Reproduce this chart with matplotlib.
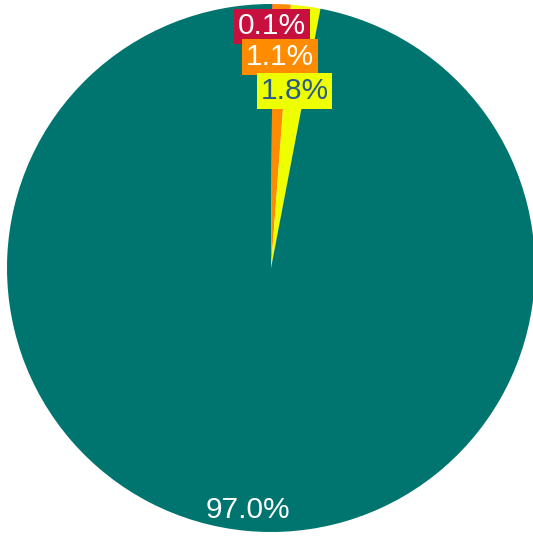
import numpy as np
import matplotlib.pyplot as plt

plt.rcParams['font.family'] = ['Liberation Sans', 'DejaVu Sans']

values = [0.1, 1.1, 1.8, 97.0]
labels = ['0.1%', '1.1%', '1.8%', '97.0%']
colors = ['#c8103e', '#ff8c00', '#eeff00', '#00756f']
text_colors = ['white', 'white', '#2b5a8a', 'white']
label_r = [0.915, 0.80, 0.675, 0.92]

fig = plt.figure(figsize=(5.33, 5.36), dpi=100)
ax = fig.add_axes([7 / 533, 4 / 536, 528 / 533, 528 / 536])
wedges, _ = ax.pie(values, colors=colors, startangle=90, counterclock=False,
                   radius=1, wedgeprops=dict(linewidth=0))
ax.set_xlim(-1, 1)
ax.set_ylim(-1, 1)
ax.axis('off')

total = sum(values)
cum = 0
for v, lab, c, tc, r in zip(values, labels, colors, text_colors, label_r):
    mid = (cum + v / 2) / total * 2 * np.pi
    cum += v
    x = r * np.sin(mid)
    y = r * np.cos(mid)
    bbox = None
    if v < 5:
        bbox = dict(boxstyle='square,pad=0.13', facecolor=c, edgecolor='none')
    ax.text(x, y, lab, ha='center', va='center', fontsize=21.5, color=tc, bbox=bbox)

fig.savefig('out.png', dpi=100)
